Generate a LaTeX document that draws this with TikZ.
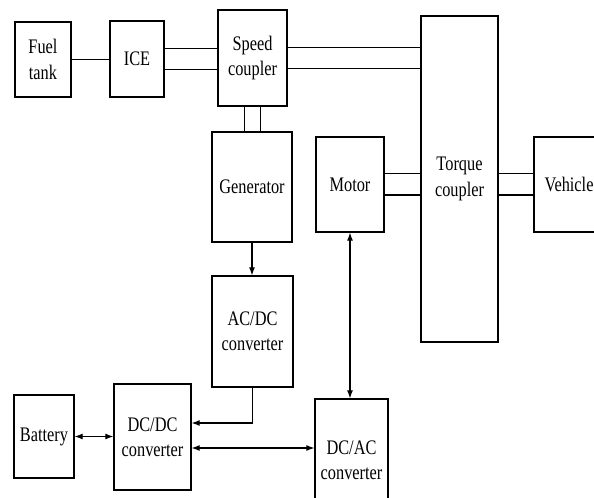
\documentclass[tikz,border=0pt]{standalone}
\usepackage{fontspec}
\setmainfont{Liberation Serif}
\newfontfamily\blkfont[FakeStretch=0.79]{Liberation Serif}
\usetikzlibrary{arrows.meta}

\begin{document}
\begin{tikzpicture}[
                x=0.75pt, y=-0.75pt,
                blk/.style 2 args={draw, line width=1pt, minimum width=0.75pt*#1, minimum height=0.75pt*#2,
                    inner sep=1pt, align=center, font=\blkfont\fontsize{15.5}{19}\selectfont},
                link/.style={line width=0.8pt},
                flow/.style={line width=0.8pt, -{Latex[length=6pt, width=4.5pt]}},
                both/.style={line width=0.8pt, {Latex[length=6pt, width=4.5pt]}-{Latex[length=6pt, width=4.5pt]}}
            ]
                \useasboundingbox (0,0) rectangle (594,498);

                \node[blk={56}{75}] (fuel) at (43,59.5) {Fuel\\tank};
                \node[blk={54}{76}] (ice) at (137,59) {ICE};
                \node[blk={69}{96}] (speed) at (252.5,58) {Speed\\coupler};
                \node[blk={80}{110}] (gen) at (252,187) {Generator};
                \node[blk={68}{95}] (motor) at (350,184.5) {Motor};
                \node[blk={77}{326}] (torque) at (459.5,179) {Torque\\coupler};
                \node[blk={70}{95}] (vehicle) at (569,184.5) {Vehicle};
                \node[blk={81}{111}] (acdc) at (252.5,331.5) {AC/DC\\converter};
                \node[blk={77}{106}] (dcdc) at (152.5,437) {DC/DC\\converter};
                \node[blk={60}{83}] (battery) at (44,436.5) {Battery};
                \node[blk={73}{122}] (dcac) at (351.5,460) {DC/AC\\converter};

                % mechanical shafts
                \draw[line width=1.3pt] (fuel.east) -- (fuel.east -| ice.west);
                \draw[link] ([yshift=7.9pt]ice.east) -- ([yshift=7.9pt]ice.east -| speed.west);
                \draw[link] ([yshift=-7.9pt]ice.east) -- ([yshift=-7.9pt]ice.east -| speed.west);
                \draw[link] ([yshift=7.9pt]speed.east) -- ([yshift=7.9pt]speed.east -| torque.west);
                \draw[link] ([yshift=-7.9pt]speed.east) -- ([yshift=-7.9pt]speed.east -| torque.west);
                \draw[link] ([xshift=-6pt]speed.south) -- ([xshift=-6pt]speed.south |- gen.north);
                \draw[link] ([xshift=6pt]speed.south) -- ([xshift=6pt]speed.south |- gen.north);
                \draw[link] ([yshift=7.9pt]motor.east) -- ([yshift=7.9pt]motor.east -| torque.west);
                \draw[link] ([yshift=-7.9pt]motor.east) -- ([yshift=-7.9pt]motor.east -| torque.west);
                \draw[link] ([yshift=7.9pt]vehicle.west) -- ([yshift=7.9pt]vehicle.west -| torque.east);
                \draw[link] ([yshift=-7.9pt]vehicle.west) -- ([yshift=-7.9pt]vehicle.west -| torque.east);

                % electrical paths
                \draw[flow] (gen.south) -- (gen.south |- acdc.north);
                \draw[both] (motor.south) -- (motor.south |- dcac.north);
                \draw[flow] (acdc.south) |- ([yshift=10.5pt]dcdc.east);
                \draw[both] ([yshift=-8.25pt]dcdc.east) -- ([yshift=-8.25pt]dcdc.east -| dcac.west);
                \draw[both] (battery.east) -- (battery.east -| dcdc.west);
            \end{tikzpicture}
\end{document}
